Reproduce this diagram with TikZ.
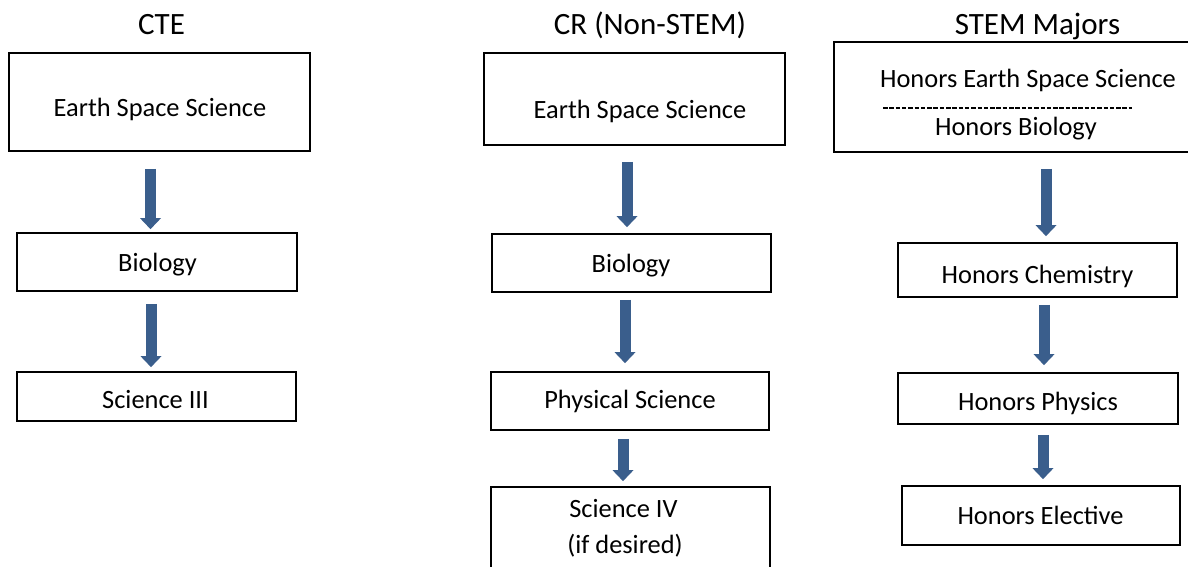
\documentclass[tikz,border=0pt]{standalone}
\usepackage{fontspec}
\setmainfont{Carlito}
\usetikzlibrary{arrows.meta}
\definecolor{flowblue}{RGB}{58,94,140}
\begin{document}
\begin{tikzpicture}[x=1pt,y=-1pt,
  course/.style={draw, line width=1.7pt, inner sep=0pt},
  lbl/.style={font=\fontsize{26.4}{32}\selectfont, anchor=base, inner sep=0pt},
  head/.style={font=\fontsize{31}{37}\selectfont, anchor=base, inner sep=0pt},
  flow/.style={draw=flowblue, line width=11pt,
    -{Triangle[length=11pt,width=21pt,line width=0pt]}},
  divider/.style={line width=1.3pt, dash pattern=on 4.5pt off 1.8pt},
]
\useasboundingbox (0,0) rectangle (1188,566);
\clip (0,0) rectangle (1188,566);

% column headings
\node[head] (hcte)  at (161.5,34)  {CTE};
\node[head] (hcr)   at (650,34)    {CR (Non-STEM)};
\node[head] (hstem) at (1037.5,34) {STEM Majors};

% CTE track
\node[course, minimum width=301pt, minimum height=98pt] (cte1) at (159.5,102) {};
\node[course, minimum width=280pt, minimum height=58pt] (cte2) at (157,262) {};
\node[course, minimum width=279pt, minimum height=49pt] (cte3) at (156.5,396.5) {};
\node[lbl] (cte1t) at (160,116)   {Earth Space Science};
\node[lbl] (cte2t) at (157.5,271) {Biology};
\node[lbl] (cte3t) at (155.5,408) {Science III};

% CR track
\node[course, minimum width=301pt, minimum height=92pt] (cr1) at (634.5,99) {};
\node[course, minimum width=279pt, minimum height=58pt] (cr2) at (631.5,263) {};
\node[course, minimum width=278pt, minimum height=58pt] (cr3) at (630,401) {};
\node[course, minimum width=279pt, minimum height=113pt] (cr4) at (630.5,543.5) {};
\node[lbl] (cr1t) at (640,118) {Earth Space Science};
\node[lbl] (cr2t) at (631,272) {Biology};
\node[lbl] (cr3t) at (630,408) {Physical Science};
\node[lbl] (cr4t) at (623.5,517) {Science IV};
\node[lbl] (cr4u) at (625,553) {(if desired)};

% STEM track
\node[course, minimum width=362pt, minimum height=110pt] (stem1) at (1015,97) {};
\node[course, minimum width=279pt, minimum height=54pt] (stem2) at (1037.5,270) {};
\node[course, minimum width=280pt, minimum height=51pt] (stem3) at (1038,398.5) {};
\node[course, minimum width=278pt, minimum height=59pt] (stem4) at (1041,515.5) {};
\node[lbl] (stem1a) at (1028,87) {Honors Earth Space Science};
\draw[divider] (883,108) -- (1132,108);
\node[lbl] (stem1b) at (1016,135) {Honors Biology};
\node[lbl] (stem2t) at (1037.5,283) {Honors Chemistry};
\node[lbl] (stem3t) at (1038,410) {Honors Physics};
\node[lbl] (stem4t) at (1040.5,524) {Honors Elective};

% progression arrows
\draw[flow, shorten <=17pt, shorten >=3pt] (cte1.south -| 150.5,0) -- (cte2.north -| 150.5,0);
\draw[flow, shorten <=12pt, shorten >=4pt] (cte2.south -| 151,0) -- (cte3.north -| 151,0);

\draw[flow, shorten <=16pt, shorten >=6pt] (cr1.south -| 627,0) -- (cr2.north -| 627,0);
\draw[flow, shorten <=7pt, shorten >=8pt] (cr2.south -| 625,0) -- (cr3.north -| 625,0);
\draw[flow, shorten <=8pt, shorten >=5pt] (cr3.south -| 623,0) -- (cr4.north -| 623,0);

\draw[flow, shorten <=16pt, shorten >=6pt] (stem1.south -| 1046,0) -- (stem2.north -| 1046,0);
\draw[flow, shorten <=7pt, shorten >=7pt] (stem2.south -| 1044,0) -- (stem3.north -| 1044,0);
\draw[flow, shorten <=10pt, shorten >=6pt] (stem3.south -| 1043,0) -- (stem4.north -| 1043,0);
\end{tikzpicture}
\end{document}
